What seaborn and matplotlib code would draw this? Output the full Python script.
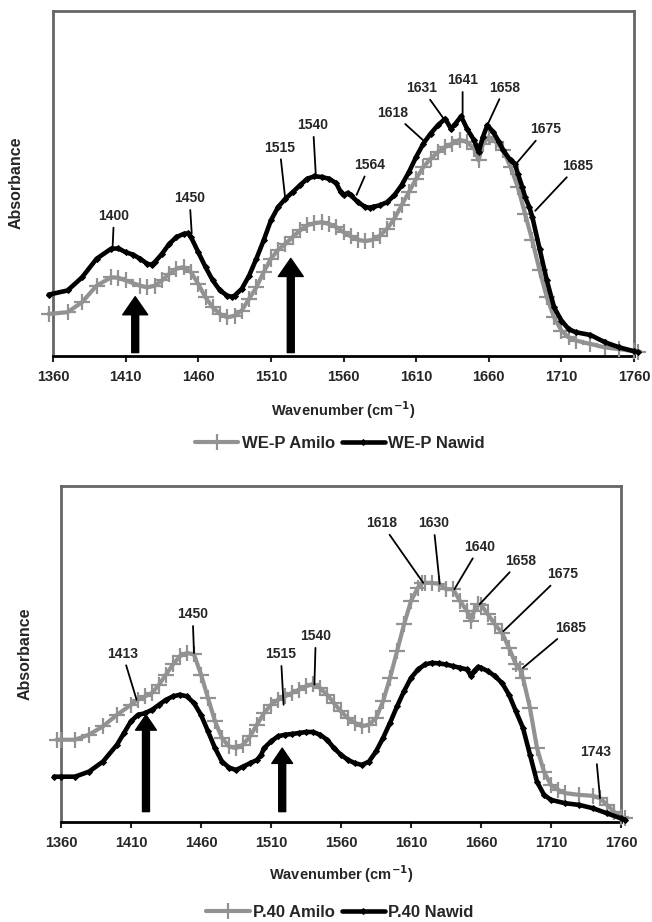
import numpy as np
import pandas as pd
import seaborn as sns
import matplotlib.pyplot as plt

# ---- top panel: WE-P spectra (relative absorbance)
top_wn_nawid = [1357, 1370, 1380, 1390, 1400, 1405, 1410, 1415, 1420, 1425, 1428, 1430, 1435, 1440,
                1445, 1450, 1453, 1455, 1460, 1465, 1470, 1475, 1480, 1483, 1485, 1490, 1495, 1500,
                1505, 1510, 1515, 1520, 1525, 1530, 1535, 1540, 1545, 1550, 1555, 1558, 1560, 1563,
                1565, 1570, 1575, 1578, 1580, 1585, 1590, 1595, 1600, 1605, 1610, 1615, 1620, 1625,
                1630, 1634, 1637, 1641, 1645, 1650, 1653, 1656, 1659, 1663, 1667, 1670, 1675, 1678,
                1680, 1683, 1685, 1688, 1690, 1695, 1700, 1705, 1710, 1715, 1720, 1730, 1740, 1750,
                1760, 1763]
top_abs_nawid = [0.177, 0.189, 0.227, 0.281, 0.310, 0.311, 0.300, 0.293, 0.281, 0.266, 0.264, 0.271,
                 0.295, 0.324, 0.344, 0.353, 0.355, 0.344, 0.300, 0.257, 0.218, 0.189, 0.174, 0.171,
                 0.174, 0.194, 0.232, 0.281, 0.334, 0.392, 0.431, 0.455, 0.474, 0.494, 0.513, 0.520,
                 0.518, 0.513, 0.500, 0.475, 0.465, 0.472, 0.465, 0.445, 0.431, 0.429, 0.431, 0.436,
                 0.445, 0.465, 0.494, 0.532, 0.576, 0.615, 0.644, 0.668, 0.687, 0.658, 0.672, 0.694,
                 0.658, 0.624, 0.590, 0.634, 0.668, 0.649, 0.620, 0.595, 0.566, 0.556, 0.528, 0.490,
                 0.460, 0.430, 0.402, 0.310, 0.218, 0.140, 0.102, 0.077, 0.068, 0.060, 0.039, 0.024,
                 0.013, 0.010]

top_wn_amilo = [1357, 1370, 1380, 1390, 1400, 1405, 1410, 1420, 1425, 1430, 1435, 1440, 1445, 1450,
                1455, 1460, 1465, 1470, 1475, 1480, 1485, 1490, 1495, 1500, 1505, 1510, 1515, 1520,
                1525, 1530, 1535, 1540, 1545, 1550, 1555, 1560, 1565, 1570, 1575, 1580, 1585, 1590,
                1595, 1600, 1605, 1610, 1615, 1620, 1625, 1630, 1635, 1640, 1645, 1650, 1653, 1656,
                1660, 1665, 1670, 1675, 1680, 1685, 1690, 1695, 1700, 1705, 1710, 1715, 1720, 1730,
                1740, 1750, 1760, 1763]
top_abs_amilo = [0.121, 0.126, 0.155, 0.203, 0.227, 0.226, 0.218, 0.203, 0.198, 0.203, 0.218, 0.237,
                 0.252, 0.257, 0.242, 0.208, 0.169, 0.140, 0.121, 0.111, 0.116, 0.131, 0.165, 0.198,
                 0.242, 0.281, 0.307, 0.324, 0.344, 0.363, 0.378, 0.384, 0.387, 0.382, 0.373, 0.358,
                 0.346, 0.336, 0.332, 0.336, 0.348, 0.368, 0.397, 0.436, 0.474, 0.513, 0.547, 0.571,
                 0.590, 0.605, 0.615, 0.626, 0.619, 0.600, 0.566, 0.615, 0.634, 0.619, 0.595, 0.547,
                 0.489, 0.411, 0.334, 0.247, 0.169, 0.111, 0.073, 0.053, 0.044, 0.034, 0.024, 0.019,
                 0.013, 0.010]

# ---- bottom panel: P.40 spectra
bot_wn_nawid = [1355, 1360, 1370, 1380, 1390, 1400, 1405, 1410, 1415, 1420, 1425, 1430, 1435, 1440,
                1445, 1450, 1455, 1460, 1465, 1470, 1475, 1480, 1485, 1490, 1495, 1500, 1503, 1505,
                1510, 1515, 1520, 1525, 1530, 1535, 1540, 1545, 1550, 1555, 1560, 1565, 1570, 1575,
                1580, 1585, 1590, 1595, 1600, 1605, 1610, 1615, 1620, 1625, 1630, 1635, 1640, 1645,
                1650, 1653, 1655, 1658, 1660, 1665, 1670, 1675, 1680, 1685, 1690, 1695, 1700, 1705,
                1710, 1720, 1730, 1740, 1750, 1760, 1763]
bot_abs_nawid = [0.134, 0.134, 0.134, 0.149, 0.179, 0.229, 0.264, 0.299, 0.318, 0.323, 0.333, 0.348,
                 0.363, 0.373, 0.378, 0.373, 0.353, 0.318, 0.269, 0.219, 0.179, 0.161, 0.154, 0.164,
                 0.174, 0.184, 0.199, 0.219, 0.239, 0.254, 0.259, 0.261, 0.264, 0.267, 0.267, 0.259,
                 0.244, 0.219, 0.199, 0.184, 0.174, 0.169, 0.179, 0.209, 0.249, 0.294, 0.343, 0.388,
                 0.428, 0.453, 0.468, 0.473, 0.471, 0.468, 0.463, 0.458, 0.453, 0.433, 0.448, 0.461,
                 0.458, 0.448, 0.433, 0.413, 0.378, 0.328, 0.279, 0.199, 0.119, 0.080, 0.065, 0.055,
                 0.050, 0.040, 0.025, 0.010, 0.005]

bot_wn_amilo = [1357, 1360, 1370, 1380, 1390, 1400, 1410, 1415, 1420, 1425, 1430, 1435, 1440, 1445,
                1450, 1455, 1460, 1465, 1470, 1475, 1480, 1485, 1490, 1495, 1500, 1505, 1510, 1515,
                1520, 1525, 1530, 1535, 1540, 1545, 1550, 1555, 1560, 1565, 1570, 1575, 1580, 1585,
                1590, 1595, 1600, 1605, 1610, 1615, 1618, 1620, 1625, 1630, 1635, 1640, 1645, 1650,
                1653, 1655, 1658, 1660, 1665, 1670, 1675, 1680, 1685, 1688, 1690, 1695, 1700, 1705,
                1710, 1715, 1720, 1730, 1740, 1745, 1750, 1755, 1760, 1763]
bot_abs_amilo = [0.244, 0.244, 0.244, 0.259, 0.284, 0.318, 0.348, 0.363, 0.373, 0.383, 0.408, 0.438,
                 0.468, 0.493, 0.502, 0.498, 0.438, 0.368, 0.299, 0.249, 0.224, 0.219, 0.229, 0.254,
                 0.289, 0.323, 0.348, 0.363, 0.373, 0.383, 0.393, 0.403, 0.410, 0.398, 0.378, 0.353,
                 0.328, 0.308, 0.294, 0.284, 0.289, 0.308, 0.358, 0.428, 0.507, 0.587, 0.657, 0.697,
                 0.711, 0.711, 0.711, 0.708, 0.692, 0.692, 0.657, 0.627, 0.597, 0.627, 0.647, 0.645,
                 0.617, 0.587, 0.562, 0.517, 0.468, 0.453, 0.428, 0.338, 0.219, 0.149, 0.109, 0.095,
                 0.085, 0.080, 0.077, 0.070, 0.050, 0.030, 0.015, 0.010]

# peak labels: (label, text x, text y, point x, point y)
top_peaks = [('1400', 1402, 0.405, 1401, 0.311), ('1450', 1454, 0.456, 1455.5, 0.355),
             ('1515', 1516, 0.603, 1520, 0.451), ('1540', 1539, 0.668, 1541, 0.519),
             ('1564', 1578, 0.553, 1569, 0.466), ('1618', 1594, 0.704, 1616, 0.620),
             ('1631', 1614, 0.775, 1630, 0.681), ('1641', 1642, 0.798, 1642, 0.693),
             ('1658', 1671, 0.777, 1658, 0.659), ('1675', 1699, 0.656, 1679, 0.557),
             ('1685', 1721, 0.550, 1692, 0.420)]
bot_peaks = [('1413', 1404, 0.500, 1414, 0.363), ('1450', 1454, 0.617, 1455, 0.502),
             ('1515', 1517, 0.498, 1519, 0.348), ('1540', 1542, 0.552, 1541, 0.408),
             ('1618', 1589, 0.888, 1618.7, 0.711), ('1630', 1626, 0.888, 1630.5, 0.708),
             ('1640', 1659, 0.818, 1641, 0.692), ('1658', 1688, 0.776, 1659, 0.647),
             ('1675', 1718, 0.736, 1676, 0.567), ('1685', 1724, 0.577, 1690, 0.458),
             ('1743', 1742, 0.206, 1745, 0.070)]
# thick arrows: (x, base, tip)
top_arrows = [(1416.6, 0.009, 0.171), (1523.7, 0.009, 0.282)]
bot_arrows = [(1420.7, 0.030, 0.318), (1518, 0.030, 0.219)]

sns.set_style('white')
plt.rcParams['font.family'] = ['Liberation Sans', 'DejaVu Sans']
plt.rcParams['font.weight'] = 'bold'

GRAY = '#929292'
fig = plt.figure(figsize=(6.52, 9.22), dpi=100)
ax1 = fig.add_axes([53 / 652, 1 - 355.7 / 922, 581 / 652, 345 / 922])
ax2 = fig.add_axes([61 / 652, 1 - 821.7 / 922, 560 / 652, 336 / 922])

panels = [
    (ax1, top_wn_amilo, top_abs_amilo, top_wn_nawid, top_abs_nawid, 'WE-P Amilo', 'WE-P Nawid',
     top_peaks, top_arrows, 18, 13, 443),
    (ax2, bot_wn_amilo, bot_abs_amilo, bot_wn_nawid, bot_abs_nawid, 'P.40 Amilo', 'P.40 Nawid',
     bot_peaks, bot_arrows, 15, 11, 912),
]

for ax, wa, ya, wn, yn, lab_a, lab_n, peaks, arrows, hw, hl, leg_y in panels:
    da = pd.DataFrame({'wn': wa, 'abs': ya})
    dn = pd.DataFrame({'wn': wn, 'abs': yn})
    sns.lineplot(data=da, x='wn', y='abs', ax=ax, color=GRAY, lw=3, marker='+', ms=11, mew=1.6,
                 mec=GRAY, label=lab_a, clip_on=False, zorder=3)
    sns.lineplot(data=dn, x='wn', y='abs', ax=ax, color='black', lw=3.3, marker='D', ms=3,
                 mec='black', label=lab_n, clip_on=False, zorder=4)

    for lab, tx, ty, px, py in peaks:
        ax.annotate(lab, xy=(px, py), xytext=(tx, ty), ha='center', va='center', fontsize=10,
                    fontweight='bold',
                    arrowprops=dict(arrowstyle='-', color='black', lw=1.3, shrinkA=1, shrinkB=0))
    for x, y0, y1 in arrows:
        ax.annotate('', xy=(x, y1), xytext=(x, y0),
                    arrowprops=dict(facecolor='black', edgecolor='black', width=5,
                                    headwidth=hw, headlength=hl))

    ax.set_xlim(1360, 1760)
    ax.set_ylim(0, 1)
    ax.set_xticks(range(1360, 1761, 50))
    ax.set_yticks([])
    ax.tick_params(axis='x', direction='out', length=4, width=1.5, pad=6, labelsize=10.5,
                   bottom=True)
    for lbl in ax.get_xticklabels():
        lbl.set_fontweight('bold')
    for side in ['top', 'right', 'left']:
        ax.spines[side].set_color('#666666')
        ax.spines[side].set_linewidth(2)
    ax.spines['bottom'].set_color('black')
    ax.spines['bottom'].set_linewidth(2)

    ax.set_xlabel('Wavenumber (cm$^{\\mathbf{-1}}$)', fontsize=10.5, fontweight='bold')
    ax.xaxis.set_label_coords(0.5, -0.125)
    ax.set_ylabel('Absorbance', fontsize=11.5, fontweight='bold')
    ax.yaxis.set_label_coords(-0.05, 0.5)

    handles, labels = ax.get_legend_handles_labels()
    ax.get_legend().remove()
    fig.legend(handles, labels, loc='center', bbox_to_anchor=(340 / 652, 1 - leg_y / 922), ncol=2,
               frameon=False, handlelength=2.6, handletextpad=0.2, columnspacing=0.4,
               prop={'size': 12, 'weight': 'bold'})

fig.savefig('out.png', dpi=100)
